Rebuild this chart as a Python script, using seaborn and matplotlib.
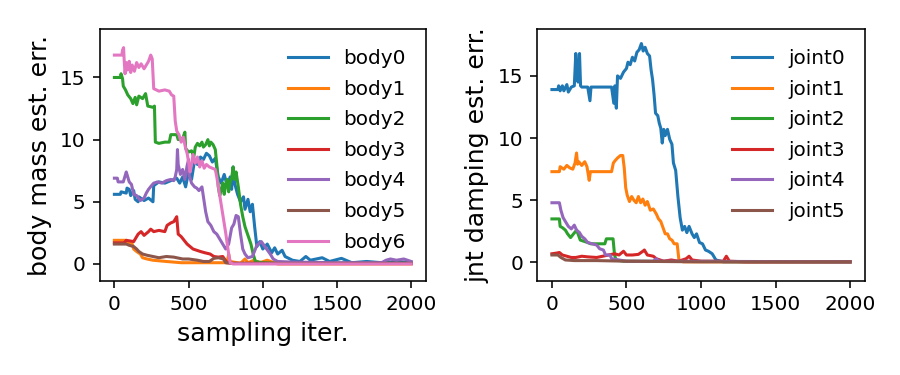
import matplotlib
matplotlib.use("Agg")
import matplotlib.pyplot as plt
import seaborn as sns

# ---------------- data: body mass estimation error ----------------
body0_x = [0, 40, 45, 80, 85, 100, 110, 130, 140, 160, 165, 200, 230, 260, 265, 300, 340, 380, 420, 440, 460, 480, 500, 520, 540, 560, 580, 600, 620, 640, 660, 680, 700, 720, 740, 760, 780, 790, 800, 810, 830, 850, 870, 880, 900, 915, 930, 945, 960, 980, 1000, 1030, 1060, 1080, 1100, 1130, 1150, 1200, 1250, 1290, 1320, 1400, 1450, 1530, 1600, 1700, 1800, 1900, 2000]
body0_y = [5.6, 5.6, 5.8, 5.7, 6.1, 6.0, 5.5, 5.9, 5.2, 5.0, 5.4, 5.1, 5.3, 5.0, 6.3, 6.6, 6.5, 6.7, 6.9, 6.5, 7.0, 6.2, 7.4, 6.8, 8.3, 8.0, 8.6, 8.4, 8.9, 8.7, 8.2, 8.5, 7.0, 6.5, 7.2, 6.3, 7.0, 6.0, 7.8, 6.5, 5.6, 5.0, 5.4, 4.4, 5.2, 4.2, 4.8, 3.0, 1.4, 1.8, 1.2, 1.6, 0.9, 1.3, 0.8, 1.1, 0.6, 0.3, 0.2, 0.6, 0.3, 0.5, 0.2, 0.45, 0.1, 0.2, 0.1, 0.2, 0.1]

body1_x = [0, 80, 90, 120, 130, 150, 175, 190, 220, 260, 350, 450, 700, 760, 770, 780, 850, 880, 900, 940, 980, 1030, 1100, 2000]
body1_y = [1.9, 1.9, 1.7, 1.6, 1.2, 1.0, 0.8, 0.5, 0.4, 0.3, 0.2, 0.1, 0.1, 0.1, 0.8, 0.2, 0.05, 0.4, 0.1, 0.3, 0.1, 0.3, 0.0, 0.0]

body2_x = [0, 40, 45, 55, 60, 75, 90, 110, 125, 140, 150, 165, 190, 210, 225, 260, 270, 276, 300, 340, 370, 380, 420, 430, 460, 475, 480, 500, 520, 535, 545, 560, 575, 590, 600, 615, 630, 640, 650, 665, 680, 690, 700, 710, 720, 730, 740, 750, 760, 770, 780, 790, 800, 810, 820, 835, 850, 865, 880, 900, 920, 935, 950, 1000, 1100, 1500, 2000]
body2_y = [15.0, 15.0, 15.3, 14.9, 14.3, 14.0, 13.6, 13.3, 12.9, 13.4, 12.8, 13.5, 13.3, 13.7, 12.7, 12.6, 12.7, 9.8, 9.7, 9.8, 9.8, 10.4, 10.4, 10.0, 10.1, 10.6, 9.3, 9.0, 9.1, 8.6, 9.4, 9.7, 9.5, 9.8, 9.4, 9.6, 10.0, 9.5, 9.8, 9.6, 9.2, 8.0, 6.2, 5.5, 6.0, 6.5, 5.6, 6.4, 6.8, 5.8, 6.6, 6.9, 7.8, 6.8, 7.4, 6.2, 4.8, 3.8, 3.0, 2.3, 1.6, 0.8, 0.2, 0.1, 0.05, 0.05, 0.05]

body3_x = [0, 65, 80, 130, 160, 180, 200, 230, 245, 265, 300, 340, 355, 380, 400, 410, 420, 430, 450, 470, 490, 510, 530, 555, 580, 610, 645, 670, 700, 730, 760, 800, 2000]
body3_y = [1.7, 1.7, 1.9, 1.8, 2.4, 2.6, 2.3, 2.6, 2.8, 2.6, 2.7, 2.6, 3.1, 3.3, 3.4, 3.6, 3.8, 2.4, 2.2, 1.9, 1.6, 1.4, 1.2, 1.1, 1.0, 0.9, 0.8, 0.6, 0.55, 0.6, 0.1, 0.05, 0.05]

body4_x = [0, 20, 25, 60, 70, 80, 90, 100, 115, 130, 150, 175, 200, 215, 230, 250, 265, 290, 320, 350, 380, 400, 410, 420, 425, 430, 445, 460, 475, 490, 500, 505, 520, 540, 555, 570, 590, 600, 615, 630, 650, 670, 690, 710, 730, 750, 770, 790, 805, 820, 835, 850, 865, 880, 900, 930, 960, 990, 1020, 1050, 1070, 1100, 1200, 1500, 1800, 1830, 1860, 1900, 1950, 2000]
body4_y = [6.9, 6.9, 6.6, 6.6, 7.0, 7.4, 7.0, 6.6, 6.4, 5.6, 5.5, 5.1, 5.3, 5.7, 6.0, 6.3, 6.5, 6.6, 6.5, 6.7, 6.8, 6.7, 7.0, 7.6, 9.2, 8.0, 7.2, 7.6, 6.8, 7.9, 8.4, 7.1, 6.5, 6.2, 6.1, 5.9, 6.2, 5.4, 4.2, 3.4, 3.1, 2.6, 2.4, 2.0, 1.6, 1.2, 1.6, 2.9, 3.2, 3.9, 3.8, 2.4, 1.2, 0.8, 0.5, 0.6, 1.5, 1.8, 1.3, 0.8, 0.4, 0.2, 0.15, 0.1, 0.1, 0.3, 0.4, 0.3, 0.4, 0.2]

body5_x = [0, 80, 100, 130, 150, 165, 190, 220, 260, 300, 350, 400, 460, 500, 560, 600, 640, 670, 700, 735, 750, 800, 2000]
body5_y = [1.6, 1.6, 1.5, 1.4, 1.2, 1.0, 0.8, 0.7, 0.6, 0.5, 0.6, 0.55, 0.4, 0.4, 0.3, 0.2, 0.2, 0.45, 0.5, 0.4, 0.1, 0.05, 0.05]

body6_x = [0, 50, 55, 62, 66, 72, 80, 90, 100, 110, 120, 135, 150, 165, 180, 200, 215, 230, 245, 255, 265, 300, 340, 370, 385, 400, 410, 420, 435, 450, 465, 480, 490, 500, 510, 520, 530, 545, 560, 575, 590, 605, 620, 640, 660, 680, 690, 710, 730, 750, 770, 780, 800, 2000]
body6_y = [16.8, 16.8, 17.2, 17.4, 16.4, 15.3, 16.2, 15.6, 16.3, 15.4, 16.0, 15.5, 16.2, 15.8, 16.1, 15.7, 16.0, 16.3, 16.8, 16.5, 14.1, 13.9, 14.0, 13.9, 13.6, 13.5, 11.5, 10.7, 10.4, 9.8, 10.2, 9.3, 8.9, 8.2, 7.4, 8.0, 8.8, 8.1, 8.6, 7.8, 8.3, 7.7, 8.0, 7.8, 7.7, 7.6, 7.0, 5.5, 4.0, 2.5, 0.8, 0.1, 0.0, 0.0]

# ---------------- data: joint damping estimation error ----------------
joint0_x = [0, 40, 45, 55, 70, 80, 100, 110, 130, 150, 160, 168, 175, 185, 192, 200, 240, 255, 262, 320, 360, 400, 415, 422, 432, 440, 460, 480, 500, 510, 525, 540, 555, 570, 585, 600, 612, 625, 640, 655, 665, 675, 685, 695, 710, 720, 730, 740, 750, 760, 775, 790, 805, 815, 830, 845, 860, 875, 890, 905, 920, 940, 955, 970, 990, 1010, 1030, 1050, 1075, 1100, 1150, 2000]
joint0_y = [13.9, 13.9, 14.2, 13.8, 14.2, 13.8, 14.3, 13.7, 14.1, 14.2, 16.8, 15.0, 14.5, 16.8, 14.2, 14.1, 14.1, 13.0, 14.1, 14.1, 14.1, 14.1, 12.8, 14.2, 12.4, 15.0, 14.8, 15.3, 15.6, 16.1, 15.9, 16.5, 16.2, 16.9, 17.1, 17.6, 17.0, 17.3, 16.8, 16.6, 15.5, 14.7, 13.5, 12.0, 11.8, 11.2, 10.8, 9.6, 10.7, 10.2, 10.7, 9.9, 9.5, 8.0, 7.4, 5.3, 3.6, 2.6, 2.9, 2.4, 2.9, 2.3, 2.0, 2.3, 1.6, 1.5, 1.0, 0.9, 0.7, 0.2, 0.05, 0.05]

joint1_x = [0, 50, 55, 80, 100, 120, 140, 155, 165, 172, 180, 200, 220, 235, 250, 258, 300, 350, 400, 412, 425, 440, 460, 475, 485, 495, 505, 520, 535, 550, 565, 580, 595, 610, 625, 640, 660, 680, 700, 715, 730, 745, 760, 775, 790, 805, 820, 840, 852, 880, 2000]
joint1_y = [7.3, 7.3, 7.7, 7.5, 7.8, 7.6, 7.5, 8.0, 8.8, 7.9, 8.1, 7.8, 8.1, 7.7, 6.6, 7.3, 7.3, 7.3, 7.3, 8.0, 8.2, 8.4, 8.6, 8.6, 7.6, 6.0, 5.4, 4.9, 5.3, 5.0, 4.8, 5.3, 4.8, 5.1, 4.6, 4.9, 4.2, 4.3, 3.9, 3.5, 3.3, 2.8, 2.3, 2.3, 1.9, 1.8, 1.5, 1.5, 0.2, 0.05, 0.05]

joint2_x = [0, 50, 55, 70, 90, 105, 125, 145, 165, 175, 190, 215, 240, 260, 300, 355, 365, 410, 420, 430, 480, 2000]
joint2_y = [3.5, 3.5, 2.9, 2.8, 2.6, 2.3, 2.0, 2.3, 2.6, 2.3, 1.8, 1.7, 1.6, 1.5, 1.5, 1.5, 1.9, 1.9, 0.6, 0.2, 0.1, 0.05]

joint3_x = [0, 30, 50, 70, 100, 130, 160, 200, 240, 300, 340, 380, 420, 450, 480, 500, 540, 580, 610, 620, 640, 680, 700, 750, 800, 850, 900, 920, 940, 1000, 1150, 1170, 1190, 1300, 2000]
joint3_y = [0.7, 0.75, 0.8, 0.6, 0.5, 0.4, 0.4, 0.5, 0.45, 0.4, 0.5, 0.6, 0.7, 0.6, 0.9, 0.6, 0.6, 0.65, 0.9, 1.0, 0.6, 0.5, 0.3, 0.1, 0.2, 0.1, 0.3, 0.5, 0.2, 0.1, 0.1, 0.5, 0.1, 0.05, 0.05]

joint4_x = [0, 50, 60, 75, 90, 110, 130, 150, 165, 185, 200, 220, 240, 270, 300, 320, 345, 360, 390, 400, 450, 500, 680, 700, 720, 2000]
joint4_y = [4.8, 4.8, 4.2, 3.6, 3.3, 2.9, 2.7, 3.0, 2.6, 2.4, 2.1, 1.9, 1.6, 1.5, 1.4, 1.1, 1.0, 0.6, 0.6, 0.3, 0.2, 0.1, 0.1, 0.3, 0.1, 0.05]

joint5_x = [0, 40, 60, 90, 150, 300, 500, 1000, 2000]
joint5_y = [0.6, 0.6, 0.4, 0.2, 0.15, 0.15, 0.1, 0.05, 0.05]

body_series = [("body0", body0_x, body0_y), ("body1", body1_x, body1_y),
               ("body2", body2_x, body2_y), ("body3", body3_x, body3_y),
               ("body4", body4_x, body4_y), ("body5", body5_x, body5_y),
               ("body6", body6_x, body6_y)]
joint_series = [("joint0", joint0_x, joint0_y), ("joint1", joint1_x, joint1_y),
                ("joint2", joint2_x, joint2_y), ("joint3", joint3_x, joint3_y),
                ("joint4", joint4_x, joint4_y), ("joint5", joint5_x, joint5_y)]

x_ticks = [0, 500, 1000, 1500, 2000]
y_ticks = [0, 5, 10, 15]

palette = sns.color_palette("tab10")

plt.rcParams.update({
    "axes.linewidth": 1.15,
    "xtick.major.size": 5.0, "ytick.major.size": 5.0,
    "xtick.major.width": 1.15, "ytick.major.width": 1.15,
    "xtick.major.pad": 5.0, "ytick.major.pad": 5.0,
    "axes.labelpad": 5.8,
})

fig = plt.figure(figsize=(9, 3.75), dpi=100)
ax1 = fig.add_axes([0.1106, 0.2507, 0.3628, 0.672])
ax2 = fig.add_axes([0.5967, 0.2507, 0.3644, 0.672])

for ax, series in ((ax1, body_series), (ax2, joint_series)):
    for i, (name, xs, ys) in enumerate(series):
        sns.lineplot(x=xs, y=ys, ax=ax, color=palette[i], label=name,
                     linewidth=2.2, estimator=None, sort=False)
    ax.set_xticks(x_ticks)
    ax.set_yticks(y_ticks)
    ax.set_xlim(-100, 2100)
    ax.tick_params(labelsize=14.4)
    ax.legend(loc="upper right", frameon=False, fontsize=14.4,
              labelspacing=0.58, borderaxespad=0.6)

ax1.set_ylim(-1.37, 18.9)
ax2.set_ylim(-1.49, 18.77)
ax1.set_xlabel("sampling iter.", fontsize=18.2)
ax1.set_ylabel("body mass est. err.", fontsize=18.2)
ax2.set_ylabel("jnt damping est. err.", fontsize=18.2)

fig.savefig("out.png", dpi=100)
